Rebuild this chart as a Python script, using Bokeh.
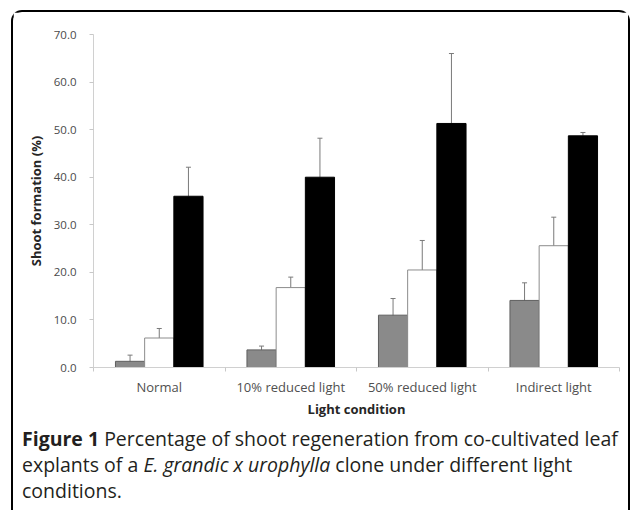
from bokeh.plotting import figure
from bokeh.models import (ColumnDataSource, Whisker, FixedTicker, PrintfTickFormatter,
                          Div, TeeHead, Range1d)
from bokeh.layouts import column
from bokeh.embed import file_html
from bokeh.resources import INLINE

categories = ["Normal", "10% reduced light", "50% reduced light", "Indirect light"]
series_a = [1.3, 3.7, 11.0, 14.1]
err_a = [1.3, 0.8, 3.5, 3.7]
series_b = [6.2, 16.8, 20.5, 25.6]
err_b = [2.0, 2.2, 6.2, 6.0]
series_c = [36.0, 40.0, 51.3, 48.7]
err_c = [6.1, 8.2, 14.7, 0.7]
y_ticks = [0, 10, 20, 30, 40, 50, 60, 70]
caption_lines = [
    [("b", "Figure 1"), ("span", "&nbsp;Percentage of shoot regeneration from co-cultivated leaf")],
    [("span", "explants of a&nbsp;"), ("i", "E. grandic x urophylla"),
     ("span", "&nbsp;clone under different light")],
    [("span", "conditions.")],
]

FONT = "Open Sans"
BW = 0.222
centers = [i + 0.5 for i in range(len(categories))]

p = figure(output_backend="svg", toolbar_location=None,
           frame_width=526, frame_height=333,
           x_range=Range1d(0, len(categories)), y_range=Range1d(0, 70),
           min_border_left=80, min_border_right=9, min_border_top=22, min_border_bottom=55,
           background_fill_color="white", border_fill_color="white")
p.outline_line_color = None
p.grid.visible = False

series = [
    (series_a, err_a, -BW, "#8a8a8a", "#5f5f5f", True),
    (series_b, err_b, 0.0, "white", "#8c8c8c", True),
    (series_c, err_c, BW, "black", "black", False),
]
for vals, errs, off, fill, line, lower in series:
    xs = [c + off for c in centers]
    up = [v + e for v, e in zip(vals, errs)]
    lo = [max(v - e, 0) if lower else v for v, e in zip(vals, errs)]
    src = ColumnDataSource(dict(x=xs, top=vals, up=up, lo=lo))
    p.vbar(x="x", top="top", width=BW, bottom=0, source=src,
           fill_color=fill, line_color=line, line_width=1)
    p.add_layout(Whisker(source=src, base="x", upper="up", lower="lo",
                         line_color="#7a7a7a", line_width=1,
                         upper_head=TeeHead(size=5, line_color="#7a7a7a", line_width=1),
                         lower_head=TeeHead(size=5 if lower else 0, line_color="#7a7a7a", line_width=1)))

ax = p.xaxis[0]
ax.ticker = FixedTicker(ticks=centers, minor_ticks=list(range(len(categories) + 1)))
ax.major_label_overrides = {c: n for c, n in zip(centers, categories)}
ax.major_tick_out = 0
ax.major_tick_in = 0
ax.minor_tick_out = 4
ax.minor_tick_in = 0
ax.minor_tick_line_color = "#c8c8c8"
ax.axis_line_color = "#d0d0d0"
ax.major_label_text_font = FONT
ax.major_label_text_font_size = "13px"
ax.major_label_text_color = "#505050"
ax.major_label_standoff = 6
ax.axis_label = "Light condition"
ax.axis_label_text_font = FONT
ax.axis_label_text_font_style = "bold"
ax.axis_label_text_font_size = "13px"
ax.axis_label_text_color = "#262626"
ax.axis_label_standoff = 1

ay = p.yaxis[0]
ay.ticker = FixedTicker(ticks=y_ticks, minor_ticks=[])
ay.formatter = PrintfTickFormatter(format="%.1f")
ay.major_tick_out = 4
ay.major_tick_in = 0
ay.major_tick_line_color = "#c8c8c8"
ay.axis_line_color = "#d0d0d0"
ay.major_label_text_font = FONT
ay.major_label_text_font_size = "11.5px"
ay.major_label_text_color = "#4a4a4a"
ay.major_label_standoff = 13
ay.axis_label = "Shoot formation (%)"
ay.axis_label_text_font = FONT
ay.axis_label_text_font_style = "bold"
ay.axis_label_text_font_size = "13px"
ay.axis_label_text_color = "#262626"
ay.axis_label_standoff = 6

html = "<br>".join("".join(f"<{t}>{s}</{t}>" for t, s in ln) for ln in caption_lines)
caption = Div(
    text=html,
    width=615, height=88, margin=(0, 0, 0, 0),
    styles={"font-family": "'Open Sans'", "font-size": "19.5px", "line-height": "26px",
            "color": "#231f20", "padding-left": "9px", "padding-right": "0px",
            "padding-top": "4px", "box-sizing": "border-box", "white-space": "nowrap"})

layout = column(p, caption, margin=(0, 0, 0, 0),
                styles={"margin-left": "11px", "margin-top": "10px",
                        "border": "2px solid black", "border-bottom": "none",
                        "border-radius": "11px 11px 0 0"})

open("out.html", "w").write(file_html(layout, INLINE))
